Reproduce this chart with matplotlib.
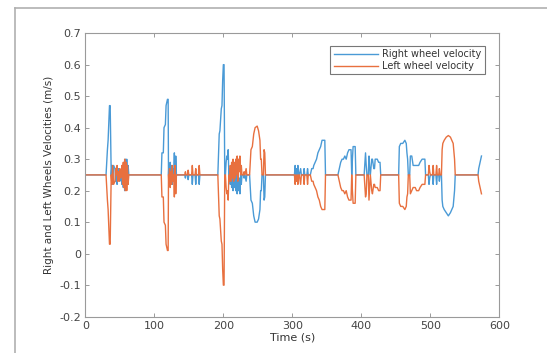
import matplotlib.pyplot as plt
from matplotlib.lines import Line2D

# time samples (s) and wheel velocities (m/s)
time = [0, 30, 32, 33, 35, 36, 37.5, 38.5, 39.5, 41, 43, 44, 45, 46, 47, 48, 49, 50, 51, 52,
        53, 54, 55, 56, 57, 58, 59, 60, 61, 62, 63,
        110, 111, 113, 114, 116, 117, 119, 120, 120.5, 121, 122, 123, 124, 125, 126, 127, 128,
        129, 130, 131, 132,
        144, 145, 146, 148, 149, 150, 154, 155, 156, 159, 160, 161, 164, 165, 166,
        192, 194, 195, 197, 198, 199, 200, 201, 202, 203, 204, 205, 206, 207, 208, 209, 210,
        211, 212, 213, 214, 215, 216, 217, 218, 219, 220, 221, 222, 223, 224, 225, 226, 227,
        229, 230, 231, 233, 234,
        238, 240, 242, 244, 246, 249, 251, 253, 254, 255, 256, 258, 259, 260, 261,
        303, 304, 305, 306, 307, 308, 309, 310, 312, 313, 316, 317, 318, 321, 322, 323,
        326, 328, 330, 331, 333, 335, 337, 339, 341, 343, 345, 347, 348,
        366, 368, 370, 372, 374, 376, 378, 380, 382, 385, 386, 387, 388, 391, 392,
        404, 406, 407, 408, 410, 411, 412, 413, 415, 416, 418, 419, 420, 423, 425, 427, 428,
        454, 455, 457, 460, 463, 465, 466, 467, 468, 470, 471, 473, 475, 478, 480, 483, 485,
        488, 490, 492, 493,
        497, 498, 499, 500, 503, 504, 505, 508, 509, 510, 512, 513, 514,
        516, 517, 518, 520, 523, 526, 529, 531, 533, 535, 536,
        569, 570, 572, 574]

right_vel = [.25, .25, .33, .36, .47, .47, .25, .28, .22, .28, .27, .23, .25, .22, .27, .24, .27, .23, .26, .25,
             .22, .28, .21, .29, .20, .30, .21, .30, .22, .28, .25,
             .25, .32, .32, .40, .41, .47, .49, .49, .25, .28, .23, .29, .24, .28, .22, .27, .25,
             .32, .22, .31, .25,
             .25, .24, .25, .25, .235, .25, .25, .22, .25, .25, .22, .25, .25, .22, .25,
             .25, .38, .39, .46, .47, .55, .60, .60, .25, .25, .29, .31, .30, .33, .25, .27, .22,
             .27, .21, .26, .20, .27, .21, .26, .20, .25, .19, .27, .20, .24, .19, .25, .22, .25,
             .25, .24, .25, .23, .25,
             .25, .17, .16, .12, .10, .10, .11, .14, .20, .20, .25, .25, .17, .18, .25,
             .25, .28, .25, .27, .25, .28, .25, .25, .27, .25, .25, .27, .25, .25, .27, .25,
             .25, .27, .27, .28, .29, .30, .32, .33, .34, .36, .36, .36, .25,
             .25, .27, .29, .30, .30, .31, .30, .32, .33, .33, .25, .30, .34, .34, .25,
             .25, .32, .28, .25, .25, .31, .27, .25, .30, .30, .27, .27, .30, .30, .29, .29, .25,
             .25, .34, .35, .35, .36, .35, .32, .30, .25, .25, .31, .31, .28, .28, .28, .28, .29,
             .30, .30, .30, .25,
             .25, .22, .24, .25, .25, .22, .25, .25, .22, .25, .25, .23, .25,
             .25, .17, .15, .14, .13, .12, .13, .14, .15, .20, .25,
             .25, .27, .29, .31]

left_vel = [.25, .25, .17, .14, .03, .03, .25, .22, .28, .22, .23, .27, .25, .28, .23, .26, .23, .27, .24, .25,
            .28, .22, .29, .21, .30, .20, .29, .20, .28, .22, .25,
            .25, .18, .18, .10, .09, .03, .01, .01, .25, .22, .27, .21, .26, .22, .28, .23, .25,
            .18, .28, .19, .25,
            .25, .26, .25, .25, .265, .25, .25, .28, .25, .25, .27, .25, .25, .28, .25,
            .25, .12, .11, .04, .03, -.05, -.10, -.10, .25, .25, .21, .19, .20, .17, .25, .23, .28,
            .23, .29, .24, .30, .23, .29, .24, .30, .25, .31, .23, .30, .26, .31, .25, .28, .25,
            .25, .26, .25, .27, .25,
            .25, .33, .34, .38, .40, .405, .39, .36, .30, .30, .25, .25, .33, .32, .25,
            .25, .22, .25, .23, .25, .22, .25, .25, .22, .25, .25, .22, .25, .25, .22, .25,
            .25, .23, .23, .22, .21, .20, .18, .17, .15, .14, .14, .14, .25,
            .25, .23, .21, .20, .20, .19, .20, .18, .17, .17, .25, .20, .16, .16, .25,
            .25, .18, .19, .25, .25, .17, .21, .25, .20, .19, .22, .22, .21, .21, .20, .20, .25,
            .25, .16, .15, .15, .14, .15, .18, .19, .25, .25, .19, .20, .21, .21, .20, .20, .21,
            .22, .22, .22, .25,
            .25, .28, .26, .25, .25, .28, .25, .25, .28, .25, .25, .27, .25,
            .25, .33, .35, .36, .37, .375, .37, .36, .35, .30, .25,
            .25, .23, .21, .19]

fig = plt.figure(figsize=(5.47, 3.53), dpi=100)
ax = fig.add_axes([0.156, 0.103, 0.757, 0.803])

ax.plot(time, right_vel, color='#4a9ad6', lw=1.0, label='Right wheel velocity')
ax.plot(time, left_vel, color='#e8703f', lw=1.0, label='Left wheel velocity')

ax.set_xlim(0, 600)
ax.set_ylim(-0.2, 0.7)
ax.set_xticks([0, 100, 200, 300, 400, 500, 600])
ax.set_yticks([-0.2, -0.1, 0, 0.1, 0.2, 0.3, 0.4, 0.5, 0.6, 0.7])
ax.set_yticklabels(['-0.2', '-0.1', '0', '0.1', '0.2', '0.3', '0.4', '0.5', '0.6', '0.7'])
ax.tick_params(direction='in', top=True, right=True, length=3, width=0.6,
               labelsize=8, colors='#8a8a8a', labelcolor='#444444', pad=3)
for s in ax.spines.values():
    s.set_color('#9a9a9a')
    s.set_linewidth(0.8)

ax.set_xlabel('Time (s)', fontsize=8, color='#333333', labelpad=1)
ax.set_ylabel('Right and Left Wheels Velocities (m/s)', fontsize=7.5, color='#333333', labelpad=4)

leg = ax.legend(loc='upper right', fontsize=7, frameon=True, fancybox=False,
                borderpad=0.35, handlelength=4.5, handletextpad=0.5, labelspacing=0.2,
                bbox_to_anchor=(0.977, 0.973))
leg.get_frame().set_edgecolor('#555555')
leg.get_frame().set_linewidth(0.8)
for t in leg.get_texts():
    t.set_color('#333333')

# screenshot frame
fig.add_artist(Line2D([15 / 547, 15 / 547], [0, 1 - 8 / 353], color='#b0b0b0', lw=1.2))
fig.add_artist(Line2D([15 / 547, 1], [1 - 8 / 353, 1 - 8 / 353], color='#b0b0b0', lw=1.2))

fig.savefig('out.png', dpi=100)
